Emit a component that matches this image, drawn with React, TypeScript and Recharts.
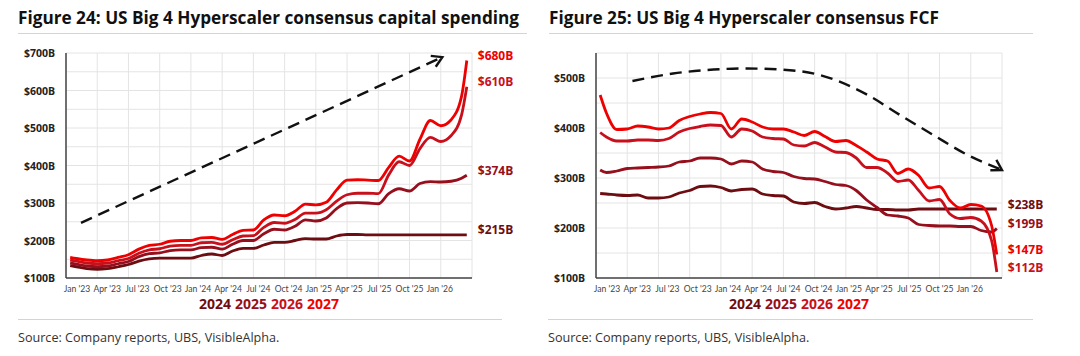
import React from 'react';
import { LineChart, Line, XAxis, YAxis, CartesianGrid } from 'recharts';

const FONT = '"Open Sans", "Noto Sans", Arial, sans-serif';
const TICK_FONT = 'Lato, "Open Sans", Arial, sans-serif';

// month index, Jan '23 = 0
const months = [0.4, 1, 2, 3, 4, 5, 6, 7, 8, 9, 10, 11, 12, 13, 14, 15, 16, 17, 18, 19, 20, 21, 22, 23, 24, 25, 26, 27, 28, 29, 30, 31, 32, 33, 34, 35, 36, 37, 38, 38.5];
const quarterTicks = [0, 3, 6, 9, 12, 15, 18, 21, 24, 27, 30, 33, 36, 39];
const quarterLabels = ["Jan '23", "Apr '23", "Jul '23", "Oct '23", "Jan '24", "Apr '24", "Jul '24", "Oct '24", "Jan '25", "Apr '25", "Jul '25", "Oct '25", "Jan '26", ''];

const years = ['2024', '2025', '2026', '2027'];
const yearColors = ['#6d0d12', '#950f1c', '#c8101c', '#ee0000'];

// consensus capex, $B
const capex2024 = [133, 130, 125, 123, 125, 130, 136, 145, 151, 153, 153, 153, 153, 160, 164, 160, 172, 179, 179, 188, 195, 195, 200, 205, 204, 204, 212, 216, 216, 215, 215, 215, 215, 215, 215, 215, 215, 215, 215, 215];
const capex2025 = [140, 137, 132, 130, 132, 138, 144, 157, 165, 167, 173, 175, 175, 181, 182, 177, 190, 200, 200, 218, 230, 228, 238, 255, 252, 260, 285, 300, 301, 300, 298, 325, 338, 332, 352, 357, 356, 358, 366, 374];
const capex2026 = [148, 145, 140, 138, 140, 146, 152, 166, 175, 178, 185, 187, 187, 194, 195, 190, 202, 212, 213, 235, 248, 246, 256, 273, 273, 282, 305, 322, 326, 326, 325, 375, 410, 400, 445, 475, 464, 480, 535, 610];
const capex2027 = [155, 152, 148, 146, 148, 155, 162, 177, 187, 190, 198, 200, 200, 207, 208, 203, 216, 227, 228, 255, 268, 266, 278, 297, 295, 302, 335, 361, 362, 361, 360, 395, 425, 412, 470, 520, 506, 522, 585, 680];

// consensus FCF, $B
const fcf2024 = [269, 268, 266, 265, 266, 260, 260, 262, 270, 275, 283, 284, 281, 274, 277, 278, 268, 265, 264, 252, 249, 251, 243, 238, 240, 243, 240, 237, 237, 236, 236, 238, 238, 238, 238, 238, 238, 238, 238, 238];
const fcf2025 = [316, 311, 314, 319, 320, 321, 322, 324, 332, 334, 340, 340, 338, 328, 334, 332, 318, 313, 311, 303, 299, 298, 293, 287, 285, 275, 256, 241, 226, 224, 220, 207, 205, 204, 204, 203, 203, 195, 192, 199];
const fcf2026 = [391, 382, 374, 374, 376, 376, 375, 379, 392, 399, 403, 406, 405, 382, 398, 394, 382, 379, 378, 366, 364, 371, 362, 352, 351, 340, 321, 321, 310, 293, 296, 275, 254, 257, 228, 219, 221, 214, 175, 112];
const fcf2027 = [466, 430, 397, 398, 404, 402, 398, 400, 415, 423, 428, 431, 429, 398, 418, 412, 402, 398, 398, 392, 385, 393, 383, 373, 375, 365, 352, 338, 334, 309, 318, 305, 280, 283, 255, 240, 247, 244, 205, 147];

// dashed trend arrows (month index, $B)
const capexTrendM = [1.44, 36.15];
const capexTrendV = [247, 689];
const fcfTrendM = [3.5, 7.4, 10.7, 14.5, 17.7, 21.5, 26.1, 29.2, 32.4, 35.7, 39.0];
const fcfTrendV = [494, 509, 516, 519, 517, 506, 466, 426, 386, 346, 316];

const capexTicks = [100, 150, 200, 250, 300, 350, 400, 450, 500, 550, 600, 650, 700];
const fcfTicks = [100, 150, 200, 250, 300, 350, 400, 450, 500, 550];

function buildRows(series: number[][]) {
  return months.map((m, i) => {
    const row: Record<string, number> = { m };
    years.forEach((y, k) => {
      row[y] = series[k][i];
    });
    return row;
  });
}

const XTick = (props: any) => {
  const { x, y, payload, index } = props;
  const label = quarterLabels[quarterTicks.indexOf(payload.value)] ?? '';
  if (!label) return <g />;
  return (
    <text x={x + 11 - index} y={y + 9} textAnchor="middle" dominantBaseline="central" fill="#444" fontSize={8.6} fontFamily={TICK_FONT}>
      {label}
    </text>
  );
};

const YTick = (props: any) => {
  const { x, y, payload } = props;
  const v = payload.value;
  if (v % 100 !== 0 || v > 700) return <g />;
  return (
    <text x={x} y={y} textAnchor="end" dominantBaseline="central" fill="#222" fontSize={10.5} fontWeight={700} fontFamily={FONT}>
      {`$${v}B`}
    </text>
  );
};

function makeEndDot(color: string, last: number) {
  return (p: any) => {
    if (p.index !== last) return <g key={`d-${p.index}`} />;
    return (
      <text key={`d-${p.index}`} x={p.cx + 11} y={p.cy - 5} dominantBaseline="central" fill={color} fontSize={12} fontWeight={700} fontFamily={FONT}>
        {`$${p.value}B`}
      </text>
    );
  };
}

function makeArrowDot(angle: number, last: number) {
  return (p: any) => {
    if (p.index !== last) return <g key={`a-${p.index}`} />;
    return (
      <path
        key={`a-${p.index}`}
        d="M -10 -6 L 0 0 L -10 6"
        transform={`translate(${p.cx},${p.cy}) rotate(${angle})`}
        fill="none"
        stroke="#111"
        strokeWidth={2.4}
      />
    );
  };
}

interface PanelProps {
  series: number[][];
  yDomain: [number, number];
  yTicks: number[];
  trendM: number[];
  trendV: number[];
  trendType: 'linear' | 'monotone';
  arrowAngle: number;
}

function Panel({ series, yDomain, yTicks, trendM, trendV, trendType, arrowAngle }: PanelProps) {
  const rows = buildRows(series);
  const trend = trendM.map((m, i) => ({ m, v: trendV[i] }));
  const last = months.length - 1;
  return (
    <LineChart width={540} height={300} data={rows} margin={{ top: 53, right: 68, bottom: 0, left: 10 }}>
      <CartesianGrid stroke="#e4e4e4" />
      <XAxis
        dataKey="m"
        type="number"
        domain={[0, 39]}
        ticks={quarterTicks}
        interval={0}
        height={22}
        tickLine={false}
        tickSize={0}
        axisLine={{ stroke: '#444', strokeWidth: 1.5 }}
        tick={<XTick />}
      />
      <YAxis
        type="number"
        domain={yDomain}
        ticks={yTicks}
        interval={0}
        width={56}
        tickLine={false}
        tickSize={0}
        tickMargin={11}
        axisLine={{ stroke: '#444', strokeWidth: 1.5 }}
        tick={<YTick />}
      />
      {years.map((y, k) => (
        <Line
          key={y}
          dataKey={y}
          type="monotone"
          stroke={yearColors[k]}
          strokeWidth={2.8}
          dot={makeEndDot(yearColors[k], last)}
          activeDot={false}
          isAnimationActive={false}
        />
      ))}
      <Line
        data={trend}
        dataKey="v"
        type={trendType}
        stroke="#111"
        strokeWidth={2.4}
        strokeDasharray="12 7"
        dot={makeArrowDot(arrowAngle, trend.length - 1)}
        activeDot={false}
        isAnimationActive={false}
      />
    </LineChart>
  );
}

function Legend() {
  return (
    <div style={{ fontFamily: FONT, fontWeight: 700, fontSize: 14, lineHeight: '14px', textAlign: 'center', whiteSpace: 'nowrap' }}>
      {years.map((y, k) => (
        <span key={y} style={{ color: yearColors[k], marginRight: k < years.length - 1 ? 4 : 0 }}>
          {y}
        </span>
      ))}
    </div>
  );
}

const titleStyle: React.CSSProperties = {
  position: 'absolute',
  top: 8,
  fontFamily: FONT,
  fontWeight: 700,
  fontSize: 17.2,
  lineHeight: '20px',
  color: '#111',
  whiteSpace: 'nowrap',
};

const sourceStyle: React.CSSProperties = {
  position: 'absolute',
  top: 329,
  fontFamily: FONT,
  fontSize: 12.6,
  lineHeight: '18px',
  color: '#333',
  whiteSpace: 'nowrap',
};

const rule = (left: number, top: number, width: number): React.CSSProperties => ({
  position: 'absolute',
  left,
  top,
  width,
  height: 1,
  background: '#d4d4d4',
});

export default function App() {
  return (
    <div style={{ position: 'absolute', left: 0, top: 0, width: 1080, height: 356, background: '#fff', overflow: 'hidden' }}>
      <div style={{ ...titleStyle, left: 18 }}>Figure 24: US Big 4 Hyperscaler consensus capital spending</div>
      <div style={rule(18, 33, 509)} />
      <div style={{ ...titleStyle, left: 549 }}>Figure 25: US Big 4 Hyperscaler consensus FCF</div>
      <div style={rule(549, 33, 484)} />

      <div style={{ position: 'absolute', left: 0, top: 0 }}>
        <Panel
          series={[capex2024, capex2025, capex2026, capex2027]}
          yDomain={[100, 700]}
          yTicks={capexTicks}
          trendM={capexTrendM}
          trendV={capexTrendV}
          trendType="linear"
          arrowAngle={-24.7}
        />
      </div>
      <div style={{ position: 'absolute', left: 530, top: 0 }}>
        <Panel
          series={[fcf2024, fcf2025, fcf2026, fcf2027]}
          yDomain={[100, 550]}
          yTicks={fcfTicks}
          trendM={fcfTrendM}
          trendV={fcfTrendV}
          trendType="monotone"
          arrowAngle={30}
        />
      </div>

      <div style={{ position: 'absolute', left: 66, top: 297, width: 406 }}>
        <Legend />
      </div>
      <div style={{ position: 'absolute', left: 596, top: 297, width: 406 }}>
        <Legend />
      </div>

      <div style={rule(18, 319, 484)} />
      <div style={rule(548, 319, 485)} />
      <div style={{ ...sourceStyle, left: 18 }}>Source: Company reports, UBS, VisibleAlpha.</div>
      <div style={{ ...sourceStyle, left: 548 }}>Source: Company reports, UBS, VisibleAlpha.</div>
    </div>
  );
}
